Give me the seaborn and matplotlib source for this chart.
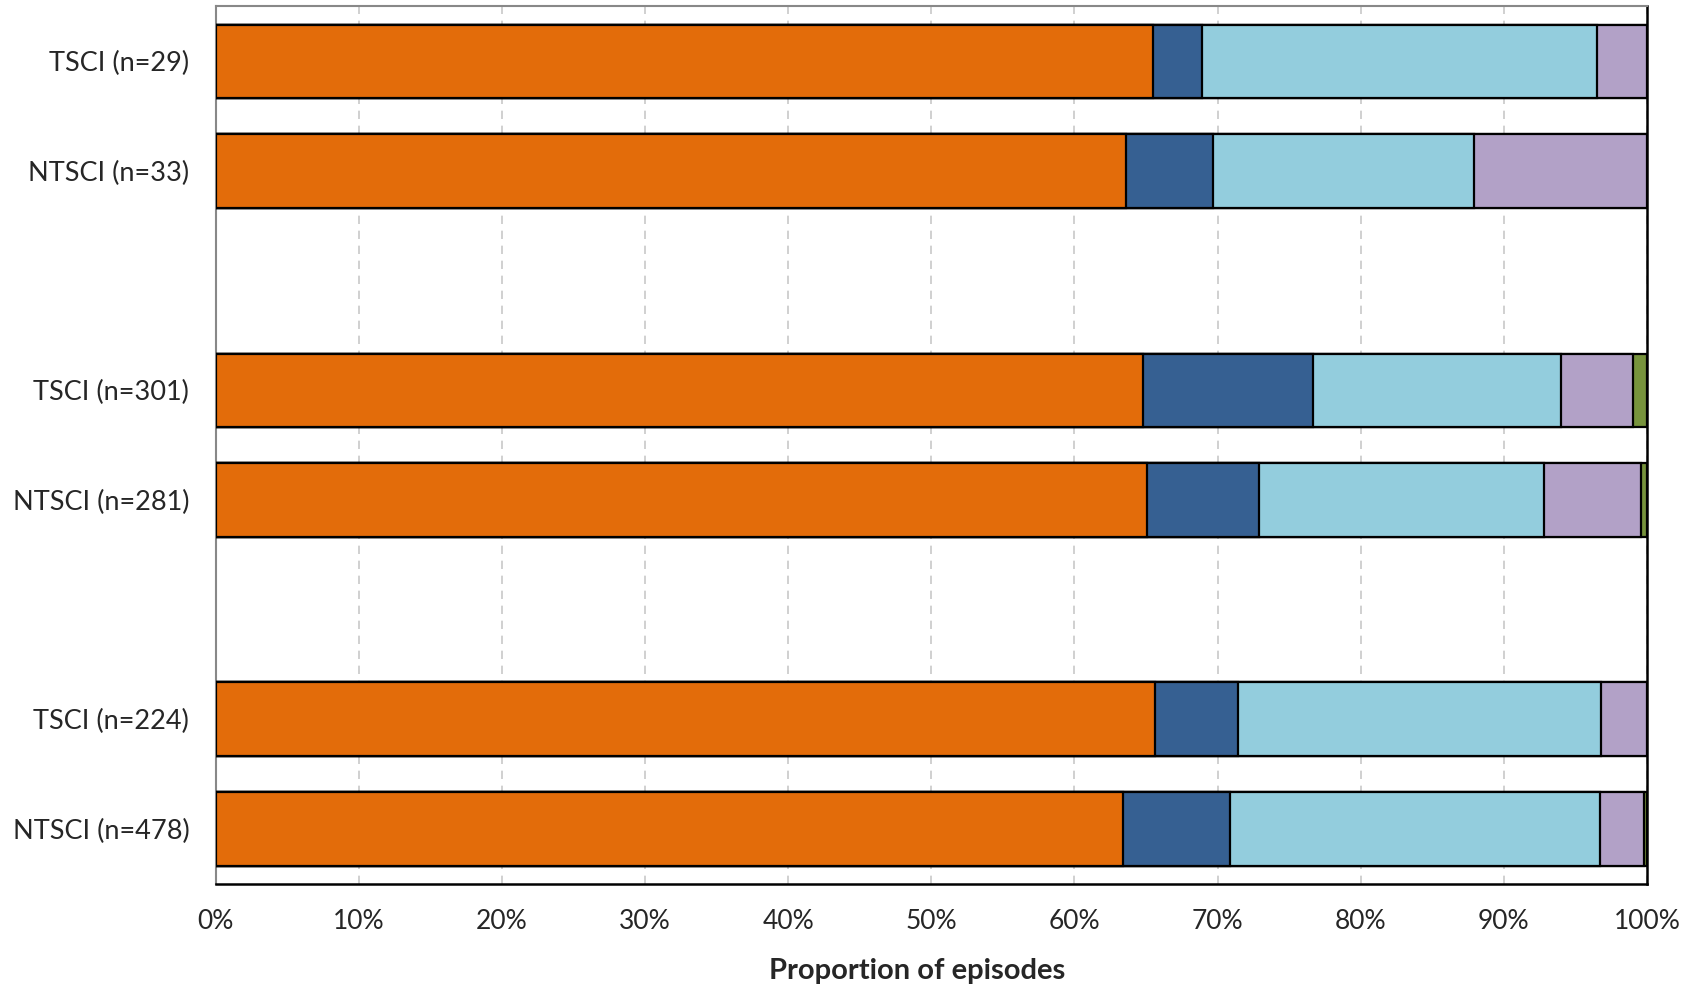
import seaborn as sns
import matplotlib.pyplot as plt
import pandas as pd

labels = ["TSCI (n=29)", "NTSCI (n=33)", "TSCI (n=301)", "NTSCI (n=281)", "TSCI (n=224)", "NTSCI (n=478)"]
positions = [0, 1, 3, 4, 6, 7]
seg1 = [65.5, 63.6, 64.8, 65.1, 65.6, 63.4]
seg2 = [3.4, 6.1, 11.9, 7.8, 5.8, 7.5]
seg3 = [27.6, 18.2, 17.3, 19.9, 25.4, 25.8]
seg4 = [3.5, 12.1, 5.0, 6.8, 3.2, 3.1]
seg5 = [0.0, 0.0, 1.0, 0.4, 0.0, 0.2]
colors = ["#E36C0A", "#366092", "#93CDDD", "#B2A1C7", "#77933C"]

sns.set_style("white")
plt.rcParams["font.family"] = ["Lato", "DejaVu Sans"]

df = pd.DataFrame({"label": labels, "pos": positions,
                   "s1": seg1, "s2": seg2, "s3": seg3, "s4": seg4, "s5": seg5})
cols = ["s1", "s2", "s3", "s4", "s5"]
cum = df[cols].cumsum(axis=1)

fig = plt.figure(figsize=(16.9, 9.94), dpi=100)
ax = fig.add_axes([0.1276, 0.111, 0.8469, 0.8825])

# draw cumulative totals from the outside in so each segment sits on top
for c, col in reversed(list(zip(colors, cols))):
    sns.barplot(x=cum[col], y=df["pos"], orient="h", native_scale=True,
                color=c, edgecolor="black", linewidth=1.6, width=0.67,
                saturation=1, ax=ax, zorder=3)

ax.set_xlim(0, 100)
ax.set_ylim(7.5, -0.5)
ax.set_yticks(positions)
ax.set_yticklabels(labels)
ax.set_xticks(range(0, 101, 10))
ax.set_xticklabels([f"{v}%" for v in range(0, 101, 10)])
ax.tick_params(axis="y", length=0, pad=19, labelsize=19.5)
ax.tick_params(axis="x", length=0, pad=18, labelsize=19)
ax.xaxis.grid(True, color="#c8c8c8", linestyle=(0, (5, 4)), linewidth=1.2, zorder=0)
ax.yaxis.grid(False)
ax.set_axisbelow(True)
ax.set_ylabel("")
ax.set_xlabel("Proportion of episodes", fontsize=21, fontweight="bold", labelpad=20)
ax.xaxis.set_label_coords(0.49, -0.085)

for side in ["left", "top"]:
    ax.spines[side].set_color("#888888")
    ax.spines[side].set_linewidth(1.5)
for side in ["right", "bottom"]:
    ax.spines[side].set_color("black")
    ax.spines[side].set_linewidth(1.8)

fig.savefig("out.png", dpi=100)
